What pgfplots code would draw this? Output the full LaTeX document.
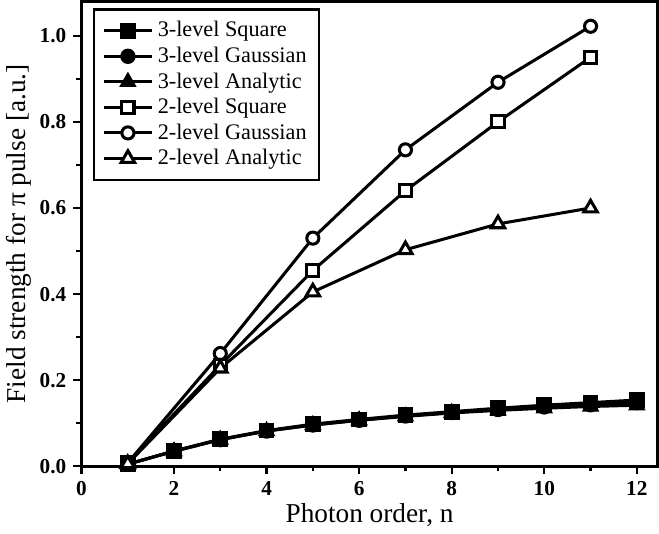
\documentclass[border=0pt]{standalone}
\usepackage{fontspec}
\setmainfont{Liberation Serif}
\usepackage{pgfplots}
\pgfplotsset{compat=1.18}

\begin{document}
\begin{tikzpicture}
\begin{axis}[
    scale only axis,
    width=285pt, height=230pt,
    xmin=0, xmax=12.45, ymin=0, ymax=1.08,
    xtick={0,2,4,6,8,10,12}, minor xtick={1,3,5,7,9,11},
    ytick={0,0.2,0.4,0.6,0.8,1.0}, minor ytick={0.1,0.3,0.5,0.7,0.9},
    yticklabel style={/pgf/number format/.cd, fixed, fixed zerofill, precision=1},
    /pgf/number format/assume math mode=true,
    xtick pos=bottom, ytick pos=left,
    tick align=outside,
    major tick length=4pt, minor tick length=2.5pt,
    every tick/.style={black, line width=1.1pt},
    axis line style={line width=1.3pt},
    tick label style={font=\fontsize{10.5}{12}\selectfont\bfseries},
    xlabel={Photon order, n},
    ylabel={Field strength for π pulse [a.u.]},
    label style={font=\fontsize{13.5}{15}\selectfont},
    xlabel style={yshift=3pt},
    ylabel style={yshift=-3pt},
    legend style={font=\fontsize{11}{12}\selectfont, at={(0.02,0.985)}, anchor=north west,
      draw=black, line width=1.1pt, inner xsep=4pt, inner ysep=4pt,
      row sep=-0.5pt},
    legend cell align=left,
    legend image code/.code={
      \draw[mark repeat=2, mark phase=2, #1] plot coordinates {(0pt,0pt) (12pt,0pt) (24pt,0pt)};},
    every axis plot/.append style={black, line width=1.5pt, mark size=3pt, mark options={solid, line width=1pt}},
]
\addplot[mark=square*, mark size=3.4pt] coordinates {(1,0.005) (2,0.036) (3,0.063) (4,0.083) (5,0.098) (6,0.109) (7,0.119) (8,0.127) (9,0.135) (10,0.142) (11,0.148) (12,0.154)};
\addlegendentry{3-level Square}
\addplot[mark=*, mark size=3.3pt] coordinates {(1,0.005) (2,0.035) (3,0.062) (4,0.082) (5,0.096) (6,0.107) (7,0.117) (8,0.125) (9,0.132) (10,0.138) (11,0.143) (12,0.148)};
\addlegendentry{3-level Gaussian}
\addplot[mark=triangle*, mark size=4pt] coordinates {(1,0.005) (2,0.035) (3,0.062) (4,0.082) (5,0.096) (6,0.107) (7,0.116) (8,0.124) (9,0.130) (10,0.135) (11,0.139) (12,0.142)};
\addlegendentry{3-level Analytic}
\addplot[mark=square*, mark options={fill=white}] coordinates {(1,0.008) (3,0.235) (5,0.455) (7,0.64) (9,0.80) (11,0.95)};
\addlegendentry{2-level Square}
\addplot[mark=*, mark options={fill=white}] coordinates {(1,0.008) (3,0.262) (5,0.53) (7,0.735) (9,0.892) (11,1.022)};
\addlegendentry{2-level Gaussian}
\addplot[mark=triangle*, mark size=3.8pt, mark options={fill=white}] coordinates {(1,0.006) (3,0.228) (5,0.405) (7,0.503) (9,0.563) (11,0.60)};
\addlegendentry{2-level Analytic}
\end{axis}
\end{tikzpicture}
\end{document}
